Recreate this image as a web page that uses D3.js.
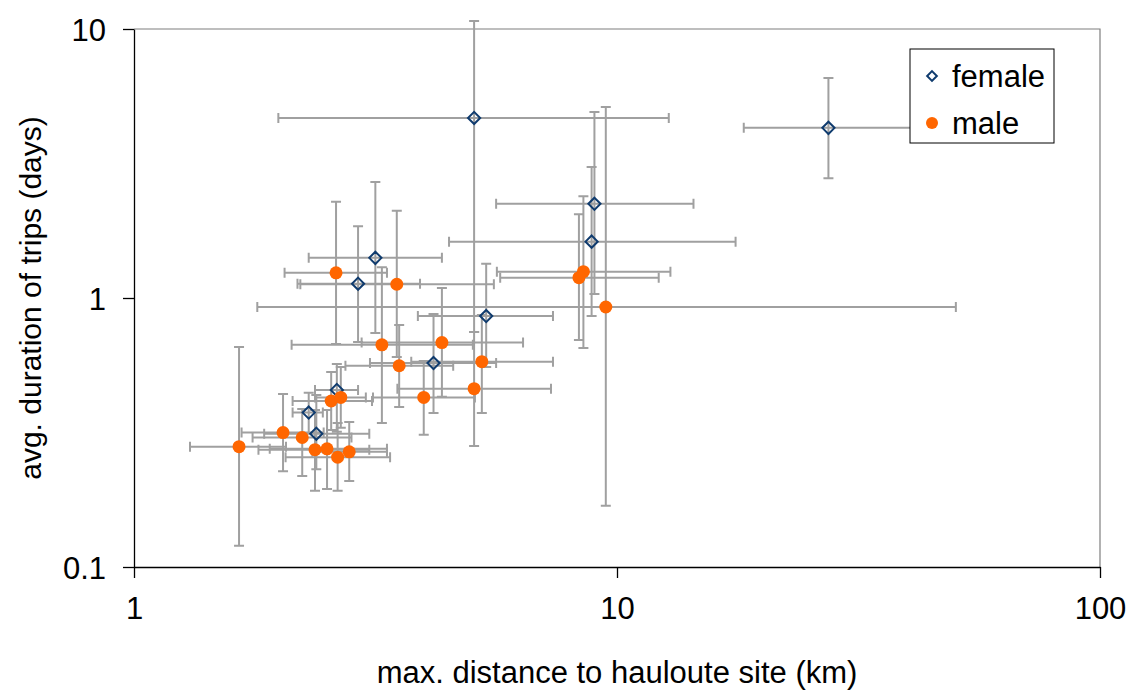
<!DOCTYPE html>
<html>
<head>
<meta charset="utf-8">
<script src="https://cdn.jsdelivr.net/npm/d3@7"></script>
<style>
  body { margin: 0; background: #fff; }
  text { font-family: "Liberation Sans", "DejaVu Sans", sans-serif; fill: #000; }
</style>
</head>
<body>
<script>
const width = 1136
const height = 691

/* Each row: [x, xLow, xHigh, y, yLow, yHigh] (km, days) */
const female = [
  [5.06, 1.99, 12.8, 4.67, 0.747, 10.7],
  [3.16, 2.30, 4.34, 1.41, 0.741, 2.70],
  [2.91, 2.18, 3.91, 1.13, 0.686, 1.85],
  [5.36, 3.87, 7.37, 0.857, 0.554, 1.34],
  [8.98, 5.62, 14.4, 2.24, 1.035, 4.91],
  [8.86, 4.49, 17.6, 1.62, 0.857, 3.07],
  [27.4, 18.3, 40.8, 4.29, 2.79, 6.57],
  [2.63, 2.37, 2.91, 0.455, 0.318, 0.568],
  [2.30, 2.13, 2.46, 0.375, 0.315, 0.444],
  [2.385, 1.86, 3.07, 0.313, 0.231, 0.436],
  [4.17, 3.08, 5.62, 0.573, 0.374, 0.872]
]

const male = [
  [2.62, 2.05, 3.34, 1.24, 0.675, 2.28],
  [3.50, 2.21, 5.56, 1.125, 0.604, 2.11],
  [3.26, 2.12, 5.03, 0.670, 0.343, 1.30],
  [3.54, 2.74, 4.58, 0.560, 0.393, 0.794],
  [3.98, 3.125, 5.08, 0.427, 0.310, 0.583],
  [2.56, 2.13, 3.11, 0.414, 0.323, 0.531],
  [2.68, 2.37, 3.02, 0.427, 0.329, 0.554],
  [2.035, 1.67, 2.47, 0.316, 0.227, 0.440],
  [2.23, 1.76, 2.82, 0.303, 0.218, 0.387],
  [1.65, 1.306, 2.064, 0.280, 0.120, 0.657],
  [2.37, 1.81, 3.07, 0.273, 0.192, 0.383],
  [2.51, 1.91, 3.34, 0.275, 0.195, 0.383],
  [2.64, 2.06, 3.39, 0.256, 0.192, 0.343],
  [2.79, 2.34, 3.34, 0.268, 0.209, 0.346],
  [4.34, 2.96, 6.39, 0.683, 0.429, 1.09],
  [5.25, 3.75, 7.37, 0.580, 0.374, 0.865],
  [5.06, 3.51, 7.30, 0.460, 0.282, 0.747],
  [8.52, 5.64, 12.9, 1.253, 0.652, 2.39],
  [8.34, 5.73, 12.2, 1.19, 0.698, 2.05],
  [9.48, 1.80, 50.3, 0.926, 0.169, 5.13]
]

const xTicks = [1, 10, 100]
const yTicks = [0.1, 1, 10]
const xTickLabels = ["1", "10", "100"]
const yTickLabels = ["0.1", "1", "10"]

const margin = {left: 134, right: 36, top: 29, bottom: 124}

const svg = d3.select("body")
  .append("svg")
  .attr("width", width)
  .attr("height", height)

/* Log scales on both axes. */
const x = d3.scaleLog()
  .domain([1, 100])
  .range([margin.left, width - margin.right])

const y = d3.scaleLog()
  .domain([0.1, 10])
  .range([height - margin.bottom, margin.top])

/* Plot area frame (top and right in grey). */
svg.append("path")
  .attr("d", `M${x(1)},${y(10)}H${x(100)}V${y(0.1)}`)
  .attr("fill", "none")
  .attr("stroke", "#7f7f7f")
  .attr("stroke-width", 1.2)

/* Axes. */
const xAxis = svg.append("g")
  .attr("transform", `translate(0,${y(0.1)})`)
  .call(d3.axisBottom(x)
    .tickValues(xTicks)
    .tickFormat((d, i) => xTickLabels[i])
    .tickSize(11)
    .tickSizeOuter(0))

const yAxis = svg.append("g")
  .attr("transform", `translate(${x(1)},0)`)
  .call(d3.axisLeft(y)
    .tickValues(yTicks)
    .tickFormat((d, i) => yTickLabels[i])
    .tickSize(11)
    .tickSizeOuter(0))

xAxis.selectAll("path, line").attr("stroke", "#000").attr("stroke-width", 1.3)
yAxis.selectAll("path, line").attr("stroke", "#000").attr("stroke-width", 1.3)
xAxis.selectAll("text")
  .attr("font-size", 31)
  .attr("y", 30)
  .attr("dy", "0.71em")
  .attr("font-family", "Liberation Sans, DejaVu Sans, sans-serif")
yAxis.selectAll("text")
  .attr("font-size", 31)
  .attr("x", -28)
  .attr("dy", "0.36em")
  .attr("font-family", "Liberation Sans, DejaVu Sans, sans-serif")

/* Axis titles. */
svg.append("text")
  .attr("x", x(10))
  .attr("y", 683)
  .attr("text-anchor", "middle")
  .attr("font-size", 31)
  .text("max. distance to hauloute site (km)")

svg.append("text")
  .attr("transform", `translate(41,${(y(0.1) + y(10)) / 2}) rotate(-90)`)
  .attr("text-anchor", "middle")
  .attr("font-size", 30)
  .text("avg. duration of trips (days)")

/* Error bars: whiskers with caps. */
const cap = 5
const barColor = "#a0a0a0"

function drawBars(data) {
  const g = svg.append("g")
    .attr("stroke", barColor)
    .attr("stroke-width", 2)
    .attr("fill", "none")
  g.selectAll("path.xbar")
    .data(data)
    .enter()
    .append("path")
    .attr("class", "xbar")
    .attr("d", d => `M${x(d[1])},${y(d[3])}H${x(d[2])}` +
      `M${x(d[1])},${y(d[3]) - cap}v${2 * cap}` +
      `M${x(d[2])},${y(d[3]) - cap}v${2 * cap}`)
  g.selectAll("path.ybar")
    .data(data)
    .enter()
    .append("path")
    .attr("class", "ybar")
    .attr("d", d => `M${x(d[0])},${y(d[4])}V${y(d[5])}` +
      `M${x(d[0]) - cap},${y(d[4])}h${2 * cap}` +
      `M${x(d[0]) - cap},${y(d[5])}h${2 * cap}`)
}

drawBars(female)
drawBars(male)

/* Markers. */
const diamond = d3.symbol().type(d3.symbolDiamond2).size(95)
const femaleColor = "#0f3b6e"
const maleColor = "#ff6600"

svg.append("g")
  .selectAll("path")
  .data(female)
  .enter()
  .append("path")
  .attr("d", diamond)
  .attr("transform", d => `translate(${x(d[0])},${y(d[3])})`)
  .attr("fill", "none")
  .attr("stroke", femaleColor)
  .attr("stroke-width", 2)

svg.append("g")
  .selectAll("circle")
  .data(male)
  .enter()
  .append("circle")
  .attr("cx", d => x(d[0]))
  .attr("cy", d => y(d[3]))
  .attr("r", 6.5)
  .attr("fill", maleColor)

/* Legend. */
const legend = svg.append("g").attr("transform", "translate(910,49)")
legend.append("rect")
  .attr("width", 144)
  .attr("height", 94)
  .attr("fill", "#fff")
  .attr("stroke", "#000")
  .attr("stroke-width", 1)
legend.append("path")
  .attr("d", d3.symbol().type(d3.symbolDiamond2).size(60))
  .attr("transform", "translate(22,27)")
  .attr("fill", "none")
  .attr("stroke", femaleColor)
  .attr("stroke-width", 2)
legend.append("circle")
  .attr("cx", 22)
  .attr("cy", 74)
  .attr("r", 6)
  .attr("fill", maleColor)
legend.append("text")
  .attr("x", 42)
  .attr("y", 38)
  .attr("font-size", 31)
  .text("female")
legend.append("text")
  .attr("x", 42)
  .attr("y", 85)
  .attr("font-size", 31)
  .text("male")
</script>
</body>
</html>
